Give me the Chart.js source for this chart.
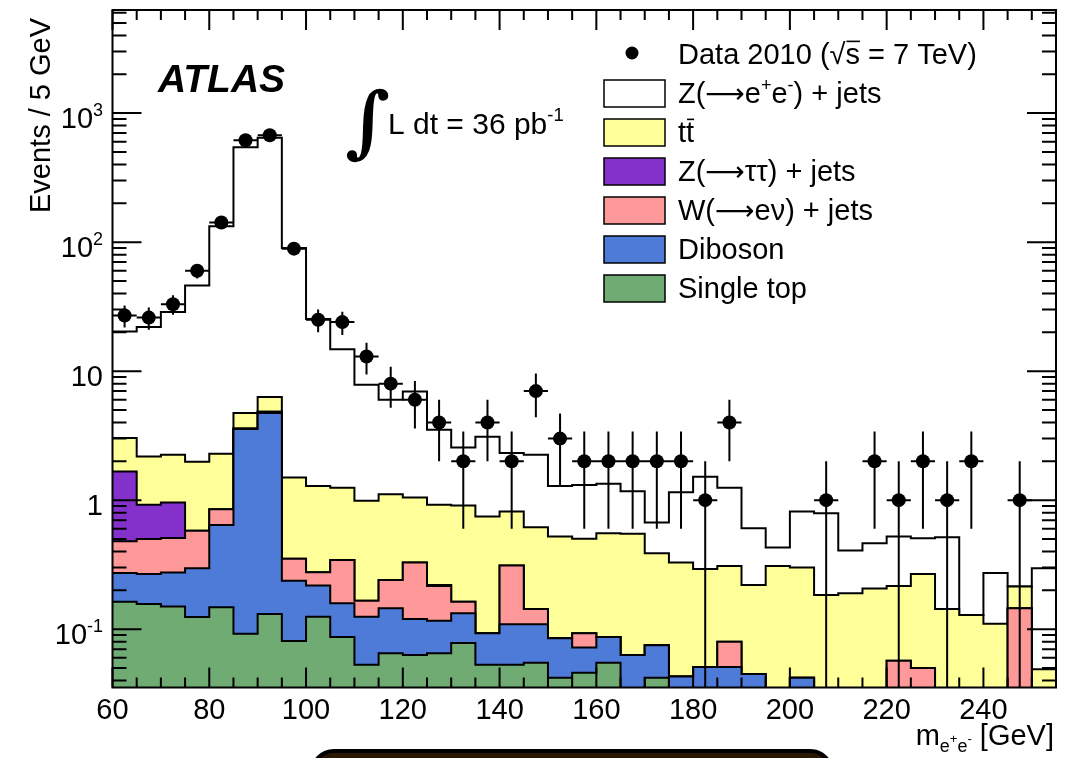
<!DOCTYPE html>
<html>
<head>
<meta charset="utf-8">
<title>m_ee distribution</title>
<script src="https://cdn.jsdelivr.net/npm/chart.js"></script>
<style>
  body { margin: 0; background: #fff; }
  #wrap { position: relative; width: 1083px; height: 758px; overflow: hidden; }
  #slidebar { position: absolute; left: 310px; top: 749px; width: 516px; height: 40px;
              border: 4px solid #000; border-radius: 28px; background: #2a1700; }
</style>
</head>
<body>
<div id="wrap">
  <canvas id="chartscreen"></canvas>
  <div id="slidebar"></div>
</div>
<script>
// bin low edges [GeV], every bin is 5 GeV wide
const binLow = [60, 65, 70, 75, 80, 85, 90, 95, 100, 105, 110, 115, 120, 125, 130, 135, 140, 145, 150,
                155, 160, 165, 170, 175, 180, 185, 190, 195, 200, 205, 210, 215, 220, 225, 230, 235, 240, 245, 250];

// MC components (events / 5 GeV), stacked bottom -> top
const singleTop = [0.163, 0.157, 0.150, 0.124, 0.148, 0.092, 0.131, 0.081, 0.125, 0.087, 0.053, 0.065, 0.063,
                   0.065, 0.078, 0.053, 0.053, 0.055, 0.042, 0.046, 0.055, 0, 0.042, 0, 0, 0, 0, 0, 0, 0,
                   0, 0, 0, 0, 0, 0, 0, 0, 0];
const diboson = [0.109, 0.111, 0.125, 0.173, 0.495, 3.47, 4.60, 0.156, 0.093, 0.072, 0.072, 0.080, 0.057,
                 0.051, 0.055, 0.040, 0.056, 0.054, 0.043, 0.026, 0.032, 0.063, 0.033, 0.043, 0.051, 0.051,
                 0.045, 0, 0.042, 0, 0, 0, 0, 0, 0, 0, 0, 0, 0];
const wenu = [0.208, 0.232, 0.235, 0.281, 0.208, 0.03, 0.12, 0.114, 0.058, 0.185, 0.041, 0.096, 0.208,
              0.100, 0.030, 0, 0.202, 0.034, 0, 0.021, 0, 0, 0, 0, 0, 0.029, 0, 0, 0, 0, 0, 0, 0.057,
              0.050, 0, 0, 0, 0.145, 0];
const ztautau = [1.19, 0.42, 0.45, 0, 0, 0, 0, 0, 0, 0, 0, 0, 0, 0.004, 0, 0, 0, 0, 0, 0, 0, 0, 0, 0, 0, 0,
                 0, 0, 0, 0, 0, 0, 0, 0, 0, 0, 0, 0, 0];
const ttbar = [1.36, 1.26, 1.29, 1.41, 1.44, 1.14, 1.45, 1.15, 1.01, 0.906, 0.824, 0.869, 0.722, 0.70,
               0.745, 0.653, 0.505, 0.474, 0.437, 0.409, 0.468, 0.485, 0.313, 0.285, 0.241, 0.229, 0.175,
               0.309, 0.258, 0.184, 0.190, 0.207, 0.159, 0.218, 0.143, 0.129, 0.110, 0.069, 0.049];
const zee = [17.3, 19.8, 26.5, 44.2, 130.4, 539, 637, 88.7, 24.1, 13.5, 6.85, 4.89, 5.91, 2.59, 1.65, 2.36,
             1.50, 1.63, 0.768, 0.809, 0.785, 0.622, 0.282, 0.822, 1.228, 0.941, 0.386, 0.120, 0.516,
             0.609, 0.217, 0.257, 0.306, 0.239, 0.373, 0, 0.162, 0, 0.248];

// data 2010 counts and their errors
const data = [27, 26, 33, 60, 142, 616, 674, 89, 25, 24, 13, 8, 6, 4, 2, 4, 2, 7, 3, 2, 2, 2, 2, 2, 1, 4,
              0, 0, 0, 1, 0, 2, 1, 2, 1, 2, 0, 1, 0];
const dataErr = [5.2, 5.1, 5.7, 7.7, 11.9, 24.8, 26.0, 9.4, 5.0, 4.9, 3.6, 2.8, 2.4, 2.0, 1.4, 2.0, 1.4,
                 2.6, 1.7, 1.4, 1.4, 1.4, 1.4, 1.4, 1.0, 2.0, 0, 0, 0, 1.0, 0, 1.4, 1.0, 1.4, 1.0, 1.4, 0,
                 1.0, 0];

// tick labels
const xTickLabels = [60, 80, 100, 120, 140, 160, 180, 200, 220, 240];
const yTickValues = [0.1, 1, 10, 100, 1000];
const yTickBase = ['10', '1', '10', '10', '10'];
const yTickExp = ['-1', '', '', '2', '3'];

const X_MIN = 60, X_MAX = 255, BIN_W = 5;
const Y_MIN = 0.0353, Y_MAX = 6300;
const FONT = '"Liberation Sans", Arial, Helvetica, sans-serif';
const ARROW_FONT = '"DejaVu Sans", sans-serif';

// stack, colours in the same order (bottom -> top)
const stackParts = [singleTop, diboson, wenu, ztautau, ttbar, zee];
const stackColors = ['#6fab73', '#4f7bd8', '#ff9999', '#8431cc', '#ffff99', '#ffffff'];

// step points for one cumulative histogram (value at low edge, repeated at the end)
function histPoints(vals) {
    const pts = [];
    for (let i = 0; i < vals.length; i++) {
        pts.push({x: binLow[i], y: Math.max(vals[i], 1e-3)});
    }
    pts.push({x: binLow[vals.length - 1] + BIN_W, y: Math.max(vals[vals.length - 1], 1e-3)});
    return pts;
}

const datasets = [];
let running = new Array(binLow.length).fill(0);
for (let k = 0; k < stackParts.length; k++) {
    running = running.map((v, i) => v + stackParts[k][i]);
    datasets.push({
        data: histPoints(running),
        stepped: 'before',
        fill: 'start',
        backgroundColor: stackColors[k],
        borderColor: '#000',
        borderWidth: 2,
        pointRadius: 0,
        order: k + 1
    });
}

// data points (empty bins are not drawn)
const dataPoints = [];
for (let i = 0; i < data.length; i++) {
    if (data[i] > 0) dataPoints.push({x: binLow[i] + BIN_W / 2, y: data[i]});
}
datasets.push({
    data: dataPoints,
    showLine: false,
    pointRadius: 7,
    pointHoverRadius: 7,
    pointBackgroundColor: '#000',
    pointBorderColor: '#000',
    pointBorderWidth: 0,
    order: 0
});

// text pieces: [text, mode] 0 normal, 1 sup, 2 sub, 3 overline, 4 sup on a sub, 5 long arrow
function pieceFont(m, size) {
    if (m === 1 || m === 2) return (size * 0.62) + 'px ' + FONT;
    if (m === 4) return (size * 0.45) + 'px ' + FONT;
    if (m === 5) return (size * 0.95) + 'px ' + ARROW_FONT;
    return size + 'px ' + FONT;
}

function richWidth(ctx, parts, size) {
    let w = 0;
    for (const [t, m] of parts) {
        ctx.font = pieceFont(m, size);
        w += ctx.measureText(t).width;
    }
    return w;
}

function drawRich(ctx, x, y, parts, size) {
    for (const [t, m] of parts) {
        ctx.font = pieceFont(m, size);
        let dy = 0;
        if (m === 1) dy = -size * 0.42;
        if (m === 2) dy = size * 0.24;
        if (m === 4) dy = -size * 0.08;
        ctx.fillText(t, x, y + dy);
        const w = ctx.measureText(t).width;
        if (m === 3) {
            ctx.beginPath();
            ctx.lineWidth = 1.6;
            ctx.moveTo(x + 1, y - size * 0.78);
            ctx.lineTo(x + w, y - size * 0.78);
            ctx.stroke();
        }
        x += w;
    }
    return x;
}

const legendLabels = [
    [['Z(', 0], ['\u27f6', 5], ['e', 0], ['+', 1], ['e', 0], ['-', 1], [') + jets', 0]],
    [['t', 0], ['t', 3]],
    [['Z(', 0], ['\u27f6', 5], ['\u03c4\u03c4) + jets', 0]],
    [['W(', 0], ['\u27f6', 5], ['e\u03bd) + jets', 0]],
    [['Diboson', 0]],
    [['Single top', 0]]
];
// legend rows top -> bottom match the stack top -> bottom
const legendColors = ['#ffffff', '#ffff99', '#8431cc', '#ff9999', '#4f7bd8', '#6fab73'];

const decor = {
    id: 'decor',
    afterDatasetsDraw(chart) {
        const ctx = chart.ctx, a = chart.chartArea;
        const xs = chart.scales.x, ys = chart.scales.y;
        ctx.save();
        ctx.strokeStyle = '#000';

        // error bars on data
        ctx.lineWidth = 2;
        ctx.beginPath();
        for (let i = 0; i < data.length; i++) {
            if (!data[i]) continue;
            const cx = xs.getPixelForValue(binLow[i] + BIN_W / 2);
            const py = ys.getPixelForValue(data[i]);
            const lo = data[i] - dataErr[i];
            const yLo = lo > 0 ? ys.getPixelForValue(lo) : a.bottom;
            ctx.moveTo(cx, Math.min(yLo, a.bottom));
            ctx.lineTo(cx, ys.getPixelForValue(data[i] + dataErr[i]));
            ctx.moveTo(xs.getPixelForValue(binLow[i]), py);
            ctx.lineTo(xs.getPixelForValue(binLow[i] + BIN_W), py);
        }
        ctx.stroke();

        // frame
        ctx.lineWidth = 2;
        ctx.strokeRect(a.left, a.top, a.right - a.left, a.bottom - a.top);

        // x ticks, bottom and top, pointing inwards
        ctx.beginPath();
        for (let v = X_MIN; v <= X_MAX; v += BIN_W) {
            const px = xs.getPixelForValue(v);
            const len = (v % 20 === 0) ? 20 : 10;
            ctx.moveTo(px, a.bottom); ctx.lineTo(px, a.bottom - len);
            ctx.moveTo(px, a.top); ctx.lineTo(px, a.top + len);
        }
        // y ticks, left and right (log)
        for (let e = -2; e <= 3; e++) {
            for (let k = 1; k <= 9; k++) {
                const v = k * Math.pow(10, e);
                if (v < Y_MIN || v > Y_MAX) continue;
                const py = ys.getPixelForValue(v);
                const len = k === 1 ? 29 : 14;
                ctx.moveTo(a.left, py); ctx.lineTo(a.left + len, py);
                ctx.moveTo(a.right, py); ctx.lineTo(a.right - len, py);
            }
        }
        ctx.stroke();
        ctx.restore();
    },
    afterDraw(chart) {
        const ctx = chart.ctx, a = chart.chartArea;
        const xs = chart.scales.x, ys = chart.scales.y;
        ctx.save();
        ctx.fillStyle = '#000';
        ctx.strokeStyle = '#000';
        ctx.textBaseline = 'alphabetic';

        // x tick labels
        ctx.font = '29px ' + FONT;
        ctx.textAlign = 'center';
        for (const v of xTickLabels) {
            ctx.fillText(String(v), xs.getPixelForValue(v), a.bottom + 31);
        }

        // y tick labels, right aligned
        ctx.textAlign = 'left';
        for (let i = 0; i < yTickValues.length; i++) {
            const parts = [[yTickBase[i], 0]];
            if (yTickExp[i]) parts.push([yTickExp[i], 1]);
            const w = richWidth(ctx, parts, 29);
            drawRich(ctx, 103 - w, ys.getPixelForValue(yTickValues[i]) + 15, parts, 29);
        }

        // y title
        ctx.save();
        ctx.translate(50, 213);
        ctx.rotate(-Math.PI / 2);
        ctx.font = '29px ' + FONT;
        ctx.fillText('Events / 5 GeV', 0, 0);
        ctx.restore();

        // x title
        const xt = [['m', 0], ['e', 2], ['+', 4], ['e', 2], ['-', 4], [' [GeV]', 0]];
        drawRich(ctx, 1054 - richWidth(ctx, xt, 29), 745, xt, 29);

        // ATLAS
        ctx.font = 'italic bold 39px ' + FONT;
        ctx.fillText('ATLAS', 158, 92);

        // luminosity
        ctx.font = 'bold 78px "DejaVu Serif", serif';
        ctx.fillText('\u222b', 345, 148);
        drawRich(ctx, 388, 134, [['L dt = 36 pb', 0], ['-1', 1]], 30);

        // legend
        ctx.beginPath();
        ctx.arc(632, 53, 6.5, 0, Math.PI * 2);
        ctx.fill();
        drawRich(ctx, 678, 64, [['Data 2010 (', 0], ['\u221a', 0], ['s', 3], [' = 7 TeV)', 0]], 29);
        for (let i = 0; i < legendLabels.length; i++) {
            const top = 80 + i * 39;
            ctx.fillStyle = legendColors[i];
            ctx.fillRect(604, top, 61, 27);
            ctx.lineWidth = 1.5;
            ctx.strokeRect(604, top, 61, 27);
            ctx.fillStyle = '#000';
            drawRich(ctx, 678, top + 23, legendLabels[i], 29);
        }
        ctx.restore();
    }
};

new Chart(document.getElementById('chartscreen'), {
    type: 'line',
    data: {datasets: datasets},
    options: {
        responsive: true,
        maintainAspectRatio: false,
        animation: false,
        devicePixelRatio: 1,
        layout: {padding: {left: 112.5, right: 27, top: 10, bottom: 70.5}},
        scales: {
            x: {
                type: 'linear', min: X_MIN, max: X_MAX, display: false, bounds: 'data',
                afterBuildTicks: s => { s.min = X_MIN; s.max = X_MAX; }
            },
            y: {
                type: 'logarithmic', min: Y_MIN, max: Y_MAX, display: false, bounds: 'data',
                afterBuildTicks: s => { s.min = Y_MIN; s.max = Y_MAX; }
            }
        },
        plugins: {legend: {display: false}, tooltip: {enabled: false}}
    },
    plugins: [decor]
});
</script>
</body>
</html>
